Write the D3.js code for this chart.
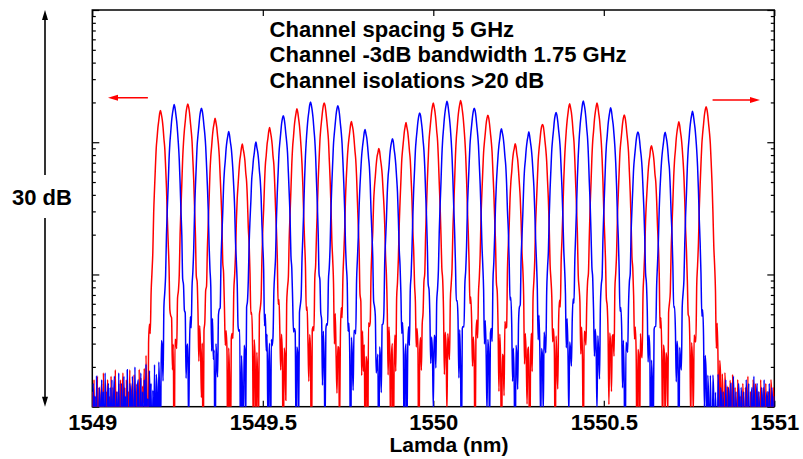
<!DOCTYPE html>
<html>
<head>
<meta charset="utf-8">
<script src="https://cdn.jsdelivr.net/npm/d3@7"></script>
<style>
  body { margin: 0; background: #fff; }
  text { font-family: "Liberation Sans", Arial, sans-serif; font-weight: bold; fill: #000; }
</style>
</head>
<body>
<div class="canva"></div>
<script>
// channel centres (nm) and peak levels (dB, 0 dB = top of the axis)
const redCenters = [1549.20, 1549.28, 1549.36, 1549.44, 1549.52, 1549.60, 1549.68, 1549.76, 1549.84, 1549.92,
  1550.00, 1550.08, 1550.16, 1550.24, 1550.32, 1550.40, 1550.48, 1550.56, 1550.64, 1550.72, 1550.80];
const redPeakDb = [-7.62, -7.11, -8.24, -10.21, -8.95, -7.51, -7.01, -8.47, -10.51, -8.57,
  -7.06, -6.86, -7.96, -10.16, -8.60, -7.11, -7.06, -7.94, -10.28, -8.49, -7.31];
const blueCenters = [1549.24, 1549.32, 1549.40, 1549.48, 1549.56, 1549.64, 1549.72, 1549.80, 1549.88, 1549.96,
  1550.04, 1550.12, 1550.20, 1550.28, 1550.36, 1550.44, 1550.52, 1550.60, 1550.68, 1550.76];
const bluePeakDb = [-7.18, -7.43, -9.25, -10.08, -7.99, -6.96, -7.24, -9.07, -9.75, -7.77,
  -6.93, -7.39, -9.00, -9.28, -7.74, -6.90, -7.43, -9.20, -9.28, -7.69];

// filter shape: distance from centre (nm) -> drop below the peak (dB)
const profileOffset = [0, 0.003, 0.006, 0.009, 0.0125, 0.016, 0.02, 0.025, 0.03, 0.035, 0.04, 0.05, 0.06, 0.08];
const profileDrop = [0, 0.3, 0.9, 1.7, 2.9, 4.8, 8.0, 12.5, 16.5, 20.3, 24.0, 28, 31, 36];

// detector noise, signed, in units of 1e-4 (the axis floor is 1e-3 = -30 dB),
// one reading every 0.0025 nm from 1549 nm
const noiseStart = 1549, noiseStep = 0.0025, noiseUnit = 1e-4;
const redNoise = [
  13,-6,16,4,12,-11,17,2,14,-8,11,15,-3,18,6,-14,13,9,16,-5,
  12,1,17,-9,14,10,-2,19,5,13,-12,15,3,16,-7,11,18,-4,14,2,
  16,-10,13,7,19,-6,12,15,-13,17,4,-2,14,11,-9,18,3,15,-15,12,
  8,16,-4,19,1,-11,14,17,-3,12,6,-16,18,10,-5,15,2,13,-12,20,
  5,-8,17,11,-14,14,3,19,-6,12,16,-10,7,18,-2,13,-17,15,9,-4,
  20,4,-12,16,10,-7,19,2,14,-15,17,6,-3,12,18,-11,8,15,-6,21,
  3,13,-14,17,5,-9,19,11,-2,15,-16,12,7,20,-5,14,1,-12,18,9,
  -7,16,12,-13,19,4,11,-4,21,6,-10,15,13,-18,17,2,-6,14,10,-11,
  18,5,-15,16,12,-3,20,8,-9,13,17,-14,4,19,-2,11,15,-12,7,21,
  -8,14,3,-16,18,10,-5,16,6,-11,20,12,-4,15,1,-13,19,9,-7,13,
  17,-10,5,21,-2,14,-15,11,18,-6,8,16,-12,20,3,-9,15,12,-14,17,
  6,-3,19,10,-11,13,4,-17,18,15,-5,21,7,-10,14,11,-8,16,2,-13,
  19,12,-4,17,5,-15,13,20,-7,9,16,-12,14,1,-6,18,11,-16,15,8,
  -10,21,4,13,-3,17,-14,10,19,-8,6,15,-11,18,3,-5,12,20,-13,14,
  7,-9,16,11,-17,19,2,-4,15,13,-12,9,21,-6,14,5,-15,17,10,-3,
  18,4,-11,16,12,-7,20,6,-14,13,17,-2,8,19,-10,11,-16,15,3,18,
  -5,14,10,-13,21,7,-8,16,12,-15,18,4,-3,13,19,-11,6,15,-7,11,
  20,-12,9,17,-4,14,2,-16,18,10,-6,15,21,-9,5,13,-14,16,8,-2,
  14,6,-10,17,11,-5,15,3,19,-13,12,7,-8,16,2,13,-11,18,4,10,
  -6,15,9,-14,12,17,-3,11,5,16,-10,13,2,14,-7,18,6,-12,12,8,
  11,-4,16,7,-13,18,3,-9,14,12,-1,19,6,-15,13,10,-7,17,4,-11,
  15,9,-6,20,2,-12,16,13,-4,18,7,-16,11,14,-2,17,5,-10,19,12,
  -8,13,4,-15,19,11,-3,16,8,-13,14,18,-6,12,3,-11,20,10,-5,15,
  6,-14,17,12,-2,19,5,-9,15,11,-17,13,8,21,-4,16,2,-12,18,9,
  -7,14,11,-5,20,3,-16,17,13,-10,12,6,-3,19,15,-13,9,16,-8,21,
  4,-11,15,10,-6,18,13,-15,12,7,-2,17,19,-9,5,14,-14,16,11,-4,
  19,2,-12,14,17,-7,11,6,-16,20,13,-5,15,8,-10,18,3,-13,12,16,
  -3,15,9,-11,21,5,-8,13,18,-14,16,4,-6,19,12,-17,10,14,-2,17,
  7,-9,18,11,-15,13,2,-4,16,20,-12,8,15,-7,17,5,-11,19,13,-3,
  12,16,-10,6,19,-5,14,10,-16,18,3,-8,15,12,-13,20,7,-2,16,9,
  -14,13,17,-6,11,4,-12,19,15,-3,14,8,-15,18,10,-9,16,2,-7,21,
  5,-13,15,12,-4,18,9,-11,14,17,-6,13,3,-16,20,11,-5,15,7,-10,
  17,14,-8,19,2,-12,16,10,-3,18,6,-14,12,15,-9,21,4,-6,14,11,
  -11,16,8,-5,19,13,-15,12,3,-10,17,15,-2,14,7,-13,18,9,-7,16,
  10,-4,15,6,-12,17,11,-9,13,4,-14,16,12,-6,15,3,-11,14,8,-3,
  13,5,-10,16,9,-7,14,2,-13,15,11,-5,17,6,-9,13,10,-12,16,4,
  -6,14,8,-11,15,12,-4,17,3,-10,13,9,-14,16,5,-7,15,11,-2,14,
  7,-12,16,10,-5,13,4,-9,15,12,-3,17,8,-13,14,6,-8,16,10,-4,
  12,3,-11,15,9,-6,14,11,-14,17,5,-2,13,8,-10,16,12,-7,15,4,
  -9,13,10,-5,16,7,-12,14,11,-3,15,6,-10,13,9,-8,16,12,-4,14,
  11];
const blueNoise = [
  -4,15,8,12,-10,17,3,-6,14,11,-13,16,5,13,-2,18,7,-11,12,15,
  -8,14,2,16,-14,11,17,-5,9,13,-12,18,4,-3,15,10,-16,17,6,12,
  -9,19,3,-12,15,12,-4,17,8,-15,20,5,-7,14,16,-11,9,18,-2,13,
  -14,16,4,21,-6,11,-10,18,7,14,-16,12,2,19,-8,15,10,-13,17,6,
  -3,20,11,-12,14,5,-9,18,13,-15,16,3,-5,21,9,-11,15,12,-7,17,
  4,-14,19,10,-2,16,-17,13,8,20,-6,11,15,-10,6,18,-4,14,2,-13,
  17,12,-8,21,5,-15,14,9,-3,19,11,-12,16,4,-9,13,20,-5,7,15,
  -16,18,3,12,-11,17,6,-4,20,10,-13,14,8,-7,19,2,-15,16,11,-2,
  15,7,-10,21,13,-6,4,18,-14,12,16,-3,9,19,-12,14,5,-8,17,10,
  -15,20,6,-4,15,11,-11,18,3,13,-9,16,21,-13,8,14,-5,12,19,-10,
  7,16,-16,13,2,18,-6,10,20,-12,15,4,-3,17,12,-14,9,19,-7,14,
  5,-11,21,10,-4,16,3,-15,13,18,-8,7,15,-13,20,6,-2,12,17,-10,
  14,8,-16,19,11,-5,16,2,-12,13,21,-7,9,15,-14,18,4,-3,12,17,
  -11,6,20,-6,14,10,-15,17,3,13,-9,19,7,-12,16,11,-4,21,5,-14,
  15,12,-8,18,2,-13,14,9,-5,20,13,-16,11,6,-2,17,15,-10,8,19,
  -7,13,4,-14,21,10,-3,16,7,-11,18,12,-6,14,3,-15,19,9,-9,15,
  11,-12,17,5,-4,20,13,-16,8,16,-8,12,19,-2,6,14,-13,18,10,-5,
  16,3,-10,21,12,-7,15,8,-14,13,17,-3,5,19,-11,10,14,-6,18,2,
  -12,15,11,-4,17,6,-15,13,19,-8,9,14,-10,16,4,-3,12,18,-13,10,
  15,-6,13,7,-11,16,3,12,-9,14,17,-4,11,5,-12,15,8,-7,13,9,
  -5,17,10,-13,14,4,-8,19,12,-15,16,6,-2,18,11,-10,13,20,-6,8,
  14,-16,12,9,-3,18,5,-11,15,13,-7,20,4,-14,17,10,-4,16,2,-12,
  19,7,-9,13,16,-5,11,3,-15,18,14,-8,12,6,-12,17,9,-2,15,11,
  -13,16,5,-6,20,12,-10,14,8,-16,17,3,-4,19,13,-11,10,15,-7,18,
  4,-12,14,11,-3,17,9,-14,16,6,-8,21,12,-5,13,2,-15,18,10,-6,
  15,13,-9,19,5,-11,12,16,-4,14,7,-13,18,3,-7,15,11,-16,17,8,
  -2,14,10,-12,20,6,-8,15,13,-5,18,4,-14,12,16,-10,9,19,-3,13,
  6,-15,17,11,-6,14,2,-11,19,12,-9,16,7,-4,15,10,-13,18,5,-8,
  16,9,-3,13,17,-14,11,4,-7,20,14,-10,12,8,-16,15,6,-5,18,11,
  -11,14,7,-13,16,12,-2,19,5,-9,15,10,-6,17,3,-14,13,16,-8,12,
  9,-5,18,13,-12,15,4,-10,14,11,-15,17,6,-3,16,12,-9,19,7,-13,
  14,10,-6,17,2,-11,15,8,-4,13,18,-14,11,5,-9,16,12,-2,14,9,
  -10,16,6,-13,18,11,-5,14,3,-12,17,9,-7,15,12,-15,13,4,-8,19,
  12,-3,15,7,-11,14,10,-6,17,5,-13,16,8,-4,13,11,-10,18,6,-9,
  15,4,-12,13,9,-5,16,11,-14,14,3,-8,17,10,-6,12,15,-11,13,7,
  -4,16,9,-10,14,6,-13,15,12,-3,17,8,-9,13,5,-12,16,10,-6,14,
  11,-8,13,7,-14,15,4,-5,16,10,-11,12,6,-7,17,9,-3,14,11,-12,
  13,5,-9,16,8,-4,14,12,-13,15,3,-6,17,9,-10,13,7,-2,15,11,
  -7,14,10,-12,13,6,-5,16,9,-11,15,4,-8,12,14,-3,17,8,-13,12,
  15,-6,13,7,-10,14,11,-4,16,5,-9,12,13,-7,15,8,-5,14,10,-11,
  12];

const xTicks = [1549, 1549.5, 1550, 1550.5, 1551];
const notes = ["Channel spacing 5 GHz", "Channel -3dB bandwidth 1.75 GHz", "Channel isolations >20 dB"];

const W = 803, H = 459;
const pLeft = 92.3, pRight = 774.3, pTop = 10, pBottom = 406.7;

const svg = d3.select(".canva").append("svg").attr("width", W).attr("height", H);

const x = d3.scaleLinear().domain([1549, 1551]).range([pLeft, pRight]);
const y = d3.scaleLog().domain([1e-3, 1]).range([pBottom, pTop]);
const lin = v => Math.pow(10, v / 10);
const drop = d3.scaleLinear().domain(profileOffset).range(profileDrop);
const reach = profileOffset[profileOffset.length - 1];

// linear sum of each nearby channel's filter shape plus the detector noise
function trace(centers, peaks, noise) {
  return noise.map((n, i) => {
    const lam = noiseStart + i * noiseStep;
    let p = n * noiseUnit;
    centers.forEach((c, k) => {
      const off = Math.abs(lam - c);
      if (off <= reach) p += lin(peaks[k] - drop(off));
    });
    return [lam, Math.max(p, 2e-4)];
  });
}

svg.append("clipPath").attr("id", "plot")
  .append("rect")
  .attr("x", pLeft).attr("y", pTop)
  .attr("width", pRight - pLeft).attr("height", pBottom - pTop);

// frame
svg.append("rect")
  .attr("x", pLeft).attr("y", pTop)
  .attr("width", pRight - pLeft).attr("height", pBottom - pTop)
  .attr("fill", "none").attr("stroke", "#000").attr("stroke-width", 1.5);

const isMajor = d => Math.abs(Math.log10(d) - Math.round(Math.log10(d))) < 1e-6;

const yl = svg.append("g").attr("transform", `translate(${pLeft},0)`)
  .call(d3.axisLeft(y).tickSize(-4).tickFormat(""));
yl.select(".domain").remove();
yl.selectAll(".tick line").attr("x2", d => isMajor(d) ? 7 : 3.5).attr("stroke-width", 1.2);

const yr = svg.append("g").attr("transform", `translate(${pRight},0)`)
  .call(d3.axisRight(y).tickSize(-4).tickFormat(""));
yr.select(".domain").remove();
yr.selectAll(".tick line").attr("x2", d => isMajor(d) ? -7 : -3.5).attr("stroke-width", 1.2);

const xt = svg.append("g").attr("transform", `translate(0,${pTop})`)
  .call(d3.axisTop(x).tickValues(xTicks).tickSize(-6).tickFormat(""));
xt.select(".domain").remove();
xt.selectAll(".tick line").attr("stroke-width", 1.2);

const xb = svg.append("g").attr("transform", `translate(0,${pBottom})`)
  .call(d3.axisBottom(x).tickValues(xTicks).tickSize(-6).tickPadding(8).tickFormat(d3.format("")));
xb.select(".domain").remove();
xb.selectAll(".tick line").attr("stroke-width", 1.2);
xb.selectAll("text").attr("font-size", 22).attr("font-family", null).attr("fill", null);

// traces
const line = d3.line()
  .x(d => x(d[0]))
  .y(d => y(d[1]))
  .curve(d3.curveMonotoneX);

const traces = svg.append("g").attr("clip-path", "url(#plot)");
traces.append("path")
  .datum(trace(redCenters, redPeakDb, redNoise))
  .attr("d", line)
  .attr("fill", "none").attr("stroke", "#ff0000").attr("stroke-width", 1.5);
traces.append("path")
  .datum(trace(blueCenters, bluePeakDb, blueNoise))
  .attr("d", line)
  .attr("fill", "none").attr("stroke", "#0000ff").attr("stroke-width", 1.5);

// axis title
svg.append("text")
  .attr("x", 449).attr("y", 452)
  .attr("text-anchor", "middle").attr("font-size", 21)
  .text("Lamda (nm)");

// notes
svg.selectAll(".note").data(notes).enter().append("text")
  .attr("class", "note")
  .attr("x", x(1549.52)).attr("y", (d, i) => 36.5 + i * 25.8)
  .attr("font-size", 22)
  .text(d => d);

// red arrows pointing out of the band
function arrow(x1, x2, yy, color) {
  const dir = Math.sign(x2 - x1);
  svg.append("line")
    .attr("x1", x1).attr("x2", x2 - dir * 8).attr("y1", yy).attr("y2", yy)
    .attr("stroke", color).attr("stroke-width", 1.5);
  svg.append("path")
    .attr("d", `M${x2},${yy} L${x2 - dir * 10},${yy - 3} L${x2 - dir * 10},${yy + 3} Z`)
    .attr("fill", color);
}
arrow(x(1549.163), x(1549.046), y(lin(-6.63)), "#ff0000");
arrow(x(1550.819), x(1550.958), y(lin(-6.80)), "#ff0000");

// 30 dB span marker
const ax = 45;
svg.append("line").attr("x1", ax).attr("x2", ax).attr("y1", y(1) + 8).attr("y2", 175)
  .attr("stroke", "#000").attr("stroke-width", 1.6);
svg.append("line").attr("x1", ax).attr("x2", ax).attr("y1", 218).attr("y2", y(1e-3) - 8)
  .attr("stroke", "#000").attr("stroke-width", 1.6);
svg.append("path")
  .attr("d", `M${ax},${y(1)} L${ax - 3},${y(1) + 10} L${ax + 3},${y(1) + 10} Z`)
  .attr("fill", "#000");
svg.append("path")
  .attr("d", `M${ax},${y(1e-3)} L${ax - 3},${y(1e-3) - 10} L${ax + 3},${y(1e-3) - 10} Z`)
  .attr("fill", "#000");
svg.append("text")
  .attr("x", 42).attr("y", 205)
  .attr("text-anchor", "middle").attr("font-size", 22)
  .text("30 dB");
</script>
</body>
</html>
